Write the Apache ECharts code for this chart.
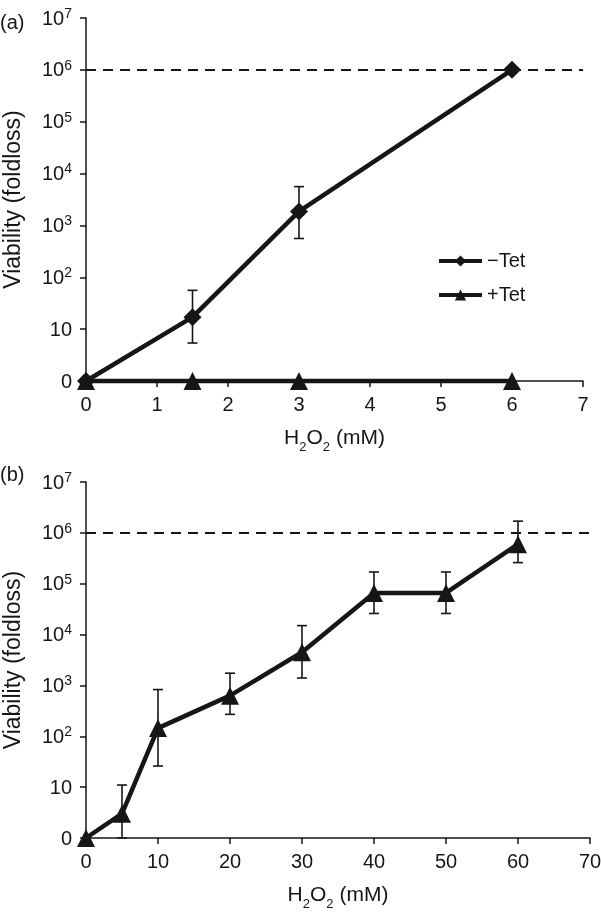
<!DOCTYPE html>
<html><head><meta charset="utf-8">
<script src="https://cdn.jsdelivr.net/npm/echarts@6/dist/echarts.min.js"></script>
<style>html,body{margin:0;padding:0;background:#fff}#c{width:601px;height:912px}</style>
</head><body><div id="c"></div>
<script>
// Panel (a)
const xA = [0, 1.5, 3, 6];
const minusTet = [1, 17, 1860, 1000000];
const minusTetErrLow = [null, 5.4, 560, null];
const minusTetErrHigh = [null, 56, 5600, null];
const plusTet = [1, 1, 1, 1];
// Panel (b)
const xB = [0, 5, 10, 20, 30, 40, 50, 60];
const valB = [1, 3, 145, 630, 4500, 66000, 66000, 600000];
const errLowB = [null, 1, 26, 270, 1400, 26000, 26000, 260000];
const errHighB = [null, 11, 830, 1740, 15000, 170000, 170000, 1700000];
// Axis ticks
const yTickExponents = [0, 1, 2, 3, 4, 5, 6, 7];
const threshold = 1000000;

const INK = '#161616';
const FONT = 'Liberation Sans, Arial, sans-serif';

function yFmt(v) {
  const e = Math.round(Math.log10(v));
  if (yTickExponents.indexOf(e) < 0) return '';
  if (e === 0) return '{b|0}';
  if (e === 1) return '{b|10}';
  return '{b|10}{sup|' + e + '}';
}
const yRich = {
  b: {fontSize: 20, fontFamily: FONT, color: INK, lineHeight: 22, verticalAlign: 'bottom'},
  sup: {fontSize: 14, fontFamily: FONT, color: INK, lineHeight: 20, verticalAlign: 'top'}
};
const nameRich = {
  n: {fontSize: 21, fontFamily: FONT, color: INK, lineHeight: 24, verticalAlign: 'top'},
  sub: {fontSize: 13, fontFamily: FONT, color: INK, lineHeight: 14, verticalAlign: 'bottom', padding: [0, 0, -2, 0]}
};

function pairs(xs, ys) { return xs.map((x, i) => [x, ys[i]]); }
function errData(xs, lo, hi) {
  const out = [];
  xs.forEach((x, i) => { if (lo[i] != null) out.push([x, lo[i], hi[i]]); });
  return out;
}
function errRender(params, api) {
  const x = api.value(0), lo = api.value(1), hi = api.value(2);
  const p1 = api.coord([x, lo]), p2 = api.coord([x, hi]);
  const w = 5;
  const st = {stroke: INK, lineWidth: 1.6};
  return {type: 'group', children: [
    {type: 'line', shape: {x1: p1[0], y1: p1[1], x2: p2[0], y2: p2[1]}, style: st},
    {type: 'line', shape: {x1: p1[0] - w, y1: p1[1], x2: p1[0] + w, y2: p1[1]}, style: st},
    {type: 'line', shape: {x1: p2[0] - w, y1: p2[1], x2: p2[0] + w, y2: p2[1]}, style: st}
  ]};
}

function xAxisCfg(gi, max, interval) {
  return {
    gridIndex: gi, type: 'value', min: 0, max: max, interval: interval,
    name: '{n|H}{sub|2}{n|O}{sub|2}{n| (mM)}', nameLocation: 'middle', nameGap: 47,
    nameTextStyle: {rich: nameRich},
    axisLine: {onZero: false, lineStyle: {color: INK, width: 1.5}},
    axisTick: {inside: false, length: 6, lineStyle: {color: INK, width: 1.5}},
    axisLabel: {margin: 14, fontSize: 20, fontFamily: FONT, color: INK},
    splitLine: {show: false}
  };
}
function yAxisCfg(gi) {
  return {
    gridIndex: gi, type: 'log', logBase: 10, min: 1, max: 1e7,
    name: 'Viability (foldloss)', nameLocation: 'middle', nameGap: 61,
    nameTextStyle: {fontSize: 23, fontFamily: FONT, color: INK},
    axisLine: {show: true, lineStyle: {color: INK, width: 1.5}},
    axisTick: {show: true, length: 6, lineStyle: {color: INK, width: 1.5}},
    axisLabel: {margin: 14, formatter: yFmt, rich: yRich},
    splitLine: {show: false}, minorTick: {show: false}
  };
}
const dashLine = {
  silent: true, symbol: 'none', label: {show: false},
  lineStyle: {color: INK, type: [10, 7], width: 2},
  data: [{yAxis: threshold}]
};

const option = {
  animation: false,
  backgroundColor: '#fff',
  graphic: [
    {type: 'text', left: 0, top: 13, style: {text: '(a)', fontSize: 20, fontFamily: FONT, fill: INK}},
    {type: 'text', left: 0, top: 465, style: {text: '(b)', fontSize: 20, fontFamily: FONT, fill: INK}}
  ],
  legend: {
    data: ['\u2212Tet', '+Tet'], orient: 'vertical', left: 432, top: 246,
    itemWidth: 43, itemHeight: 14, itemGap: 14,
    lineStyle: {width: 4},
    textStyle: {fontSize: 20, fontFamily: FONT, color: INK}
  },
  grid: [
    {left: 86, top: 18, width: 497, height: 363, outerBoundsMode: 'none', containLabel: false},
    {left: 86, top: 482, width: 504, height: 356, outerBoundsMode: 'none', containLabel: false}
  ],
  xAxis: [xAxisCfg(0, 7, 1), xAxisCfg(1, 70, 10)],
  yAxis: [yAxisCfg(0), yAxisCfg(1)],
  series: [
    {name: 'errA', type: 'custom', xAxisIndex: 0, yAxisIndex: 0, renderItem: errRender,
     encode: {x: 0, y: [1, 2]}, data: errData(xA, minusTetErrLow, minusTetErrHigh), z: 1, clip: false},
    {name: '+Tet', type: 'line', xAxisIndex: 0, yAxisIndex: 0, data: pairs(xA, plusTet),
     symbol: 'triangle', symbolSize: 18, showAllSymbol: true, clip: false,
     lineStyle: {color: INK, width: 4.5}, itemStyle: {color: INK}, z: 3},
    {name: '\u2212Tet', type: 'line', xAxisIndex: 0, yAxisIndex: 0, data: pairs(xA, minusTet),
     symbol: 'diamond', symbolSize: 18, showAllSymbol: true, clip: false,
     lineStyle: {color: INK, width: 4.5}, itemStyle: {color: INK}, z: 4,
     markLine: dashLine},
    {name: 'errB', type: 'custom', xAxisIndex: 1, yAxisIndex: 1, renderItem: errRender,
     encode: {x: 0, y: [1, 2]}, data: errData(xB, errLowB, errHighB), z: 1, clip: false},
    {name: 'B', type: 'line', xAxisIndex: 1, yAxisIndex: 1, data: pairs(xB, valB),
     symbol: 'triangle', symbolSize: 18, showAllSymbol: true, clip: false,
     lineStyle: {color: INK, width: 4.5}, itemStyle: {color: INK}, z: 4,
     markLine: dashLine}
  ]
};
const chart = echarts.init(document.getElementById('c'), null, {renderer: 'canvas'});
chart.setOption(option);
</script></body></html>
